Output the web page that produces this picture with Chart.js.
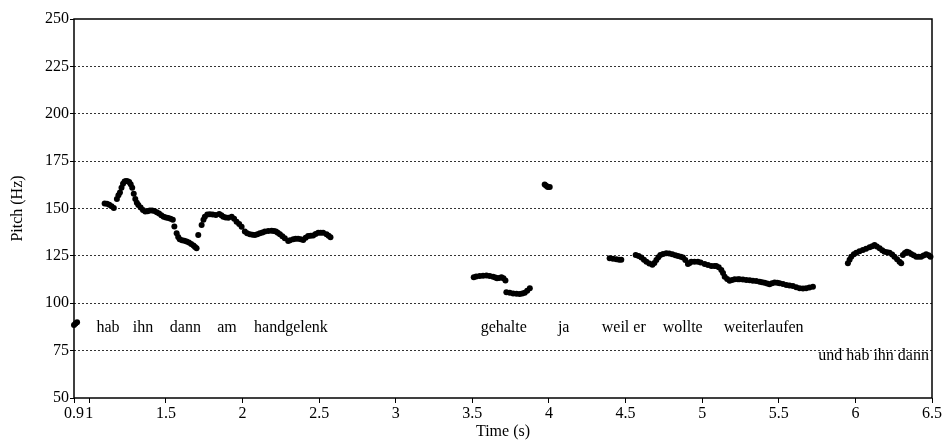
<!DOCTYPE html>
<html>
<head>
<meta charset="utf-8">
<title>Pitch (Hz)</title>
<script src="https://cdn.jsdelivr.net/npm/chart.js@4/dist/chart.umd.min.js"></script>
<style>
    html, body { margin: 0; padding: 0; background: #fff; }
    #pitch { display: block; }
</style>
</head>
<body>
<canvas id="pitch" width="944" height="440"></canvas>
<script>
// pitch track, time in s / pitch in Hz, one pair per voiced stretch
const timeA  = [0.90, 0.91, 0.92];
const pitchA = [88.5, 89.3, 90.0];

const timeB  = [1.100, 1.115, 1.130, 1.145, 1.160, 1.180, 1.190, 1.200, 1.210, 1.220, 1.230, 1.240, 1.250, 1.260, 1.270, 1.280, 1.290, 1.300, 1.310, 1.320, 1.335, 1.350, 1.365, 1.380, 1.395, 1.410, 1.425, 1.440, 1.455, 1.470, 1.485, 1.500, 1.515, 1.530, 1.545];
const pitchB = [152.7, 152.5, 152.0, 151.2, 150.3, 155.0, 157.0, 158.5, 161.0, 163.0, 164.2, 164.5, 164.4, 164.0, 162.8, 161.0, 157.8, 155.0, 153.0, 151.8, 150.5, 149.2, 148.4, 148.5, 149.0, 149.0, 148.7, 148.0, 147.3, 146.5, 145.6, 145.2, 145.0, 144.6, 144.0];

const timeC  = [1.555, 1.570, 1.580, 1.590, 1.605, 1.620, 1.635, 1.650, 1.665, 1.680, 1.690, 1.700];
const pitchC = [140.5, 137.0, 135.0, 133.8, 133.3, 133.0, 132.6, 132.0, 131.3, 130.5, 129.7, 129.0];

const timeD  = [1.711, 1.733, 1.745, 1.754, 1.770, 1.787, 1.805, 1.826, 1.848, 1.862, 1.874, 1.890, 1.907, 1.929, 1.945, 1.961, 1.978, 1.994, 2.015, 2.030, 2.048, 2.065, 2.081, 2.097, 2.113, 2.130, 2.146, 2.168, 2.190, 2.205, 2.218, 2.230, 2.244, 2.260, 2.276, 2.298, 2.310, 2.331, 2.347, 2.363, 2.380, 2.396, 2.412, 2.428, 2.445, 2.461, 2.477, 2.494, 2.510, 2.526, 2.548, 2.562, 2.574];
const pitchD = [136.0, 141.3, 144.0, 145.7, 146.8, 147.0, 146.8, 146.6, 147.1, 146.5, 145.7, 145.2, 145.1, 145.7, 144.6, 143.0, 141.8, 140.4, 137.8, 137.0, 136.4, 136.1, 136.0, 136.4, 136.9, 137.4, 137.8, 138.1, 138.3, 138.1, 137.8, 137.2, 136.4, 135.4, 134.3, 132.9, 133.3, 133.8, 134.0, 134.0, 133.8, 133.4, 134.5, 135.5, 135.6, 135.7, 136.5, 137.2, 137.2, 137.2, 136.4, 135.6, 134.8];

const timeE  = [3.509, 3.525, 3.548, 3.570, 3.592, 3.613, 3.635, 3.650, 3.661, 3.675, 3.690, 3.703, 3.716, 3.722, 3.744, 3.766, 3.788, 3.809, 3.826, 3.842, 3.858, 3.875];
const pitchE = [113.7, 114.1, 114.4, 114.5, 114.6, 114.4, 114.0, 113.6, 113.2, 113.3, 113.7, 113.2, 112.0, 105.8, 105.5, 105.2, 105.0, 104.9, 105.1, 105.6, 106.6, 107.9];

const timeF  = [3.972, 3.982, 3.992, 4.005];
const pitchF = [162.6, 162.0, 161.4, 161.3];

const timeG  = [4.396, 4.418, 4.440, 4.458, 4.472];
const pitchG = [123.7, 123.5, 123.2, 123.0, 122.9];

const timeH  = [4.566, 4.585, 4.603, 4.620, 4.636, 4.655, 4.675, 4.688, 4.701, 4.714, 4.727, 4.745, 4.766, 4.785, 4.805, 4.825, 4.842, 4.860, 4.875, 4.890, 4.907, 4.918, 4.929, 4.950, 4.972, 4.990, 5.016, 5.038, 5.060, 5.080, 5.092, 5.108, 5.125, 5.136, 5.147, 5.163, 5.179, 5.195, 5.212, 5.233, 5.244, 5.266, 5.288, 5.310, 5.331, 5.353, 5.375, 5.391, 5.407, 5.424, 5.440, 5.456, 5.473, 5.490, 5.505, 5.527, 5.549, 5.570, 5.592, 5.614, 5.636, 5.658, 5.679, 5.700, 5.723];
const pitchH = [125.5, 125.0, 124.2, 123.0, 121.9, 121.0, 120.3, 121.2, 122.8, 124.3, 125.5, 126.0, 126.4, 126.2, 125.8, 125.3, 124.9, 124.5, 124.2, 122.8, 120.7, 121.3, 121.9, 121.9, 121.9, 121.5, 120.7, 120.2, 119.7, 119.7, 119.7, 119.0, 117.5, 116.0, 114.0, 112.8, 111.9, 112.3, 112.6, 112.6, 112.6, 112.5, 112.3, 112.1, 111.9, 111.7, 111.4, 111.1, 110.8, 110.4, 110.0, 110.5, 111.0, 110.8, 110.5, 110.1, 109.6, 109.4, 109.1, 108.5, 107.9, 107.8, 107.9, 108.3, 108.7];

const timeI  = [5.951, 5.962, 5.973, 5.990, 6.006, 6.027, 6.049, 6.070, 6.093, 6.110, 6.125, 6.140, 6.158, 6.175, 6.190, 6.207, 6.223, 6.240, 6.255, 6.272, 6.288, 6.299, 6.310, 6.323, 6.336, 6.350, 6.364, 6.380, 6.397, 6.413, 6.429, 6.445, 6.462, 6.478, 6.490];
const pitchI = [121.1, 123.0, 124.6, 125.8, 126.7, 127.4, 128.1, 128.7, 129.5, 130.1, 130.7, 130.0, 129.0, 128.0, 127.2, 126.9, 126.7, 125.7, 124.6, 123.2, 121.9, 121.1, 125.5, 126.5, 127.2, 126.8, 126.0, 125.3, 124.6, 124.6, 124.6, 125.2, 125.8, 125.3, 124.6];

// transcription written under the track
const words     = ['hab', 'ihn', 'dann', 'am', 'handgelenk', 'gehalte', 'ja', 'weil er', 'wollte', 'weiterlaufen', 'und hab ihn dann'];
const wordTimes = [1.122, 1.350, 1.627, 1.898, 2.316, 3.705, 4.096, 4.488, 4.873, 5.401, 6.119];
const wordPitch = [87.3, 87.3, 87.3, 87.3, 87.3, 87.3, 87.3, 87.3, 87.3, 87.3, 72.5];

const xTicks      = [0.9, 1, 1.5, 2, 2.5, 3, 3.5, 4, 4.5, 5, 5.5, 6, 6.5];
const xTickLabels = ['0.9', '1', '1.5', '2', '2.5', '3', '3.5', '4', '4.5', '5', '5.5', '6', '6.5'];

const serif = 'Liberation Serif';

const points = [];
const stretches = [[timeA, pitchA], [timeB, pitchB], [timeC, pitchC], [timeD, pitchD], [timeE, pitchE],
    [timeF, pitchF], [timeG, pitchG], [timeH, pitchH], [timeI, pitchI]];

for (let i = 0; i < stretches.length; ++i) {
    const t = stretches[i][0];
    const p = stretches[i][1];
    for (let j = 0; j < t.length; ++j) {
        points.push({x: t[j], y: p[j]});
    }
}

const framePlugin = {
    id: 'frame',
    afterDatasetsDraw (chart) {
        const ctx  = chart.ctx;
        const area = chart.chartArea;
        const x    = chart.scales.x;
        const y    = chart.scales.y;

        ctx.save();
        ctx.fillStyle    = '#000';
        ctx.font         = '16px "' + serif + '"';
        ctx.textAlign    = 'center';
        ctx.textBaseline = 'middle';
        for (let i = 0; i < words.length; ++i) {
            ctx.fillText(words[i], x.getPixelForValue(wordTimes[i]), y.getPixelForValue(wordPitch[i]));
        }

        ctx.strokeStyle = '#000';
        ctx.lineWidth   = 1.5;
        ctx.strokeRect(area.left, area.top, area.right - area.left, area.bottom - area.top);
        ctx.restore();
    }
};

new Chart(document.getElementById('pitch').getContext('2d'), {
    type: 'scatter',
    data: {
        datasets: [{
            data: points,
            backgroundColor: '#000',
            borderWidth: 0,
            pointRadius: 3,
            pointHoverRadius: 3,
            clip: false
        }]
    },
    options: {
        responsive: false,
        animation: false,
        layout: {padding: {top: 19, right: 12, left: 0, bottom: 0}},
        plugins: {
            legend: {display: false},
            tooltip: {enabled: false}
        },
        scales: {
            x: {
                type: 'linear',
                min: 0.9,
                max: 6.5,
                afterFit (scale) { scale.height = 42; },
                afterBuildTicks (scale) { scale.ticks = xTicks.map((v) => ({value: v})); },
                grid: {drawOnChartArea: false, tickLength: 5, tickColor: '#000', tickWidth: 1},
                border: {display: false},
                ticks: {
                    color: '#000',
                    padding: 1,
                    maxRotation: 0,
                    autoSkip: false,
                    font: {family: serif, size: 16},
                    callback: (value, index) => xTickLabels[index]
                },
                title: {
                    display: true,
                    text: 'Time (s)',
                    color: '#000',
                    font: {family: serif, size: 16, lineHeight: 1},
                    padding: {top: 0, bottom: 0}
                }
            },
            y: {
                min: 50,
                max: 250,
                afterFit (scale) { scale.width = 74; },
                grid: {
                    color: (c) => (c.tick && (c.tick.value === 50 || c.tick.value === 250) ? 'rgba(0,0,0,0)' : '#333'),
                    lineWidth: 1,
                    tickLength: 4,
                    tickColor: '#000',
                    tickWidth: 1,
                    tickBorderDash: []
                },
                border: {display: false, dash: [2, 2]},
                ticks: {
                    stepSize: 25,
                    color: '#000',
                    padding: 1,
                    font: {family: serif, size: 16}
                },
                title: {
                    display: true,
                    text: 'Pitch (Hz)',
                    color: '#000',
                    font: {family: serif, size: 16, lineHeight: 1},
                    padding: {top: 10, bottom: 0}
                }
            }
        }
    },
    plugins: [framePlugin]
});
</script>
</body>
</html>
